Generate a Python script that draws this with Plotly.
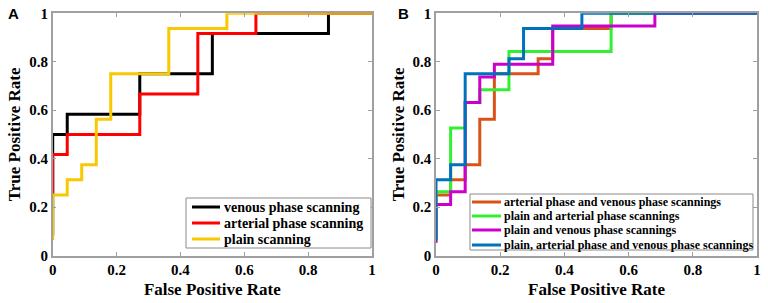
import plotly.graph_objects as go

# Panel A data (step ROC curves)
venous_fpr = [0, 0, 0.0455, 0.2727, 0.5, 0.8636, 1]
venous_tpr = [0.0833, 0.5, 0.5833, 0.75, 0.9167, 1, 1]
arterial_fpr = [0, 0, 0.0455, 0.2727, 0.4545, 0.6364, 1]
arterial_tpr = [0.25, 0.4167, 0.5, 0.6667, 0.9167, 1, 1]
plain_fpr = [0, 0, 0.0455, 0.0909, 0.1364, 0.1818, 0.3636, 0.5455, 1]
plain_tpr = [0.0625, 0.25, 0.3125, 0.375, 0.5625, 0.75, 0.9375, 1, 1]

# Panel B data
av_fpr = [0, 0, 0.0455, 0.0909, 0.1364, 0.1818, 0.3182, 0.3636, 0.5455, 1]
av_tpr = [0.0625, 0.25, 0.3125, 0.375, 0.5625, 0.75, 0.8125, 0.9375, 1, 1]
pa_fpr = [0, 0, 0.0455, 0.0909, 0.1364, 0.2273, 0.5455, 1]
pa_tpr = [0.0526, 0.2632, 0.5263, 0.6316, 0.6842, 0.8421, 1, 1]
pv_fpr = [0, 0, 0.0455, 0.0909, 0.1364, 0.1818, 0.3636, 0.6818, 1]
pv_tpr = [0.0526, 0.2105, 0.2632, 0.6316, 0.7368, 0.7895, 0.9474, 1, 1]
pav_fpr = [0, 0, 0.0455, 0.0909, 0.2273, 0.2727, 0.4545, 1]
pav_tpr = [0.0625, 0.3125, 0.375, 0.75, 0.8125, 0.9375, 1, 1]

names_a = ["venous phase scanning", "arterial phase scanning", "plain scanning"]
names_b = ["arterial phase and venous phase scannings", "plain and arterial phase scannings",
           "plain and venous phase scannings", "plain, arterial phase and venous phase scannings"]
colors_a = ["#000000", "#ff0000", "#f8c800"]
colors_b = ["#d95319", "#33ee33", "#cc00cc", "#0072bd"]
tick_vals = [0, 0.2, 0.4, 0.6, 0.8, 1]
tick_text = ["0", "0.2", "0.4", "0.6", "0.8", "1"]

fig = go.Figure()
for (x, y), n, c in zip([(venous_fpr, venous_tpr), (arterial_fpr, arterial_tpr), (plain_fpr, plain_tpr)], names_a, colors_a):
    fig.add_trace(go.Scatter(x=x, y=y, mode="lines", line=dict(color=c, width=3, shape="hv"),
                             name=n, xaxis="x", yaxis="y", showlegend=False))
for (x, y), n, c in zip([(av_fpr, av_tpr), (pa_fpr, pa_tpr), (pv_fpr, pv_tpr), (pav_fpr, pav_tpr)], names_b, colors_b):
    fig.add_trace(go.Scatter(x=x, y=y, mode="lines", line=dict(color=c, width=3, shape="hv"),
                             name=n, xaxis="x2", yaxis="y2", showlegend=False))

W, H = 768, 303


def px_x(v):
    return v / W


def px_y(v):
    return 1 - v / H


ydom = [px_y(255.5), px_y(13.3)]
tickfont = dict(family="Liberation Serif", size=15, color="black", weight="bold")
titlefont = dict(family="Liberation Serif", size=17, color="black", weight="bold")
axis_common = dict(range=[0, 1], tickvals=tick_vals, ticktext=tick_text, automargin=False,
                   ticklabeloverflow="allow",
                   showgrid=False, zeroline=False, showline=True, linecolor="#a0a0a0", linewidth=1.5,
                   mirror="ticks", ticks="inside", ticklen=4, tickcolor="#a0a0a0", tickfont=tickfont)

shapes = []
annotations = []


def manual_legend(box, rows, line_x, text_x, names, colors, fsize):
    x0, y0, x1, y1 = box
    shapes.append(dict(type="rect", xref="paper", yref="paper", x0=px_x(x0), x1=px_x(x1), y0=px_y(y1), y1=px_y(y0),
                       line=dict(color="#8a8a8a", width=1), fillcolor="white", layer="above"))
    for ry, n, c in zip(rows, names, colors):
        shapes.append(dict(type="line", xref="paper", yref="paper", x0=px_x(line_x[0]), x1=px_x(line_x[1]),
                           y0=px_y(ry), y1=px_y(ry), line=dict(color=c, width=3), layer="above"))
        annotations.append(dict(text=n, x=px_x(text_x), y=px_y(ry), xref="paper", yref="paper", xanchor="left",
                                yanchor="middle", showarrow=False,
                                font=dict(family="Liberation Serif", size=fsize, color="black", weight="bold")))


manual_legend((186, 198, 371, 248), [207, 223, 239], (192, 220), 222, names_a, colors_a, 14)
manual_legend((470, 194, 753, 250), [202, 216, 230, 245], (472, 501), 502, names_b, colors_b, 12)

annotations += [
    dict(text="A", x=px_x(13.5), y=px_y(13.5), xref="paper", yref="paper", xanchor="center", yanchor="middle",
         showarrow=False, font=dict(family="Liberation Sans", size=15, color="black", weight="bold")),
    dict(text="B", x=px_x(403), y=px_y(13.5), xref="paper", yref="paper", xanchor="center", yanchor="middle",
         showarrow=False, font=dict(family="Liberation Sans", size=15, color="black", weight="bold")),
]

fig.update_layout(
    width=W, height=H, margin=dict(l=0, r=0, t=0, b=0, autoexpand=False),
    plot_bgcolor="white", paper_bgcolor="white", showlegend=False,
    xaxis=dict(domain=[px_x(52.7), px_x(372)], anchor="y", title=dict(text="False Positive Rate", font=titlefont, standoff=6), **axis_common),
    yaxis=dict(domain=ydom, anchor="x", title=dict(text="True Positive Rate", font=titlefont, standoff=4), **axis_common),
    xaxis2=dict(domain=[px_x(436), px_x(757)], anchor="y2", title=dict(text="False Positive Rate", font=titlefont, standoff=6), **axis_common),
    yaxis2=dict(domain=ydom, anchor="x2", title=dict(text="True Positive Rate", font=titlefont, standoff=4), **axis_common),
    shapes=shapes,
    annotations=annotations,
)

# remove the browser's default 8px page margin so the figure fills the window exactly
fig.write_html("out.html", config={"displayModeBar": False},
               post_script="document.body.style.margin='0px';")
